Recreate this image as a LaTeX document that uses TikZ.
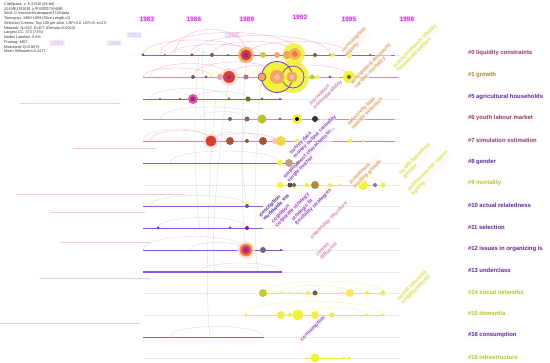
\documentclass[tikz,border=0pt]{standalone}
\usepackage{fontspec}
\setmainfont{Liberation Sans}
\newfontfamily\cjkf{Noto Sans CJK SC}
\definecolor{yearc}{HTML}{CC33DD}
\definecolor{yearbg}{HTML}{FCE2FA}
\definecolor{cpurp}{HTML}{5B2C9A}
\definecolor{cmauve}{HTML}{8A3F72}
\definecolor{colive}{HTML}{9C8A30}
\definecolor{cyell}{HTML}{B4C828}
\definecolor{tlpurp}{HTML}{8A55E0}
\definecolor{tlyel}{HTML}{E6EE2A}
\definecolor{nyel}{HTML}{F2F23A}
\definecolor{norange}{HTML}{F0A860}
\definecolor{nred}{HTML}{D84030}
\definecolor{npurp}{HTML}{8030A0}
\definecolor{olv}{HTML}{6E6A28}
\definecolor{tan}{HTML}{D4A060}
\definecolor{lpink}{HTML}{C888B8}
\definecolor{lblpur}{HTML}{8545C8}
\definecolor{lbldk}{HTML}{4A32A8}
\definecolor{lblyl}{HTML}{D2E43C}
\begin{document}
\begin{tikzpicture}[x=1pt,y=-1pt,
  nd/.style={circle,inner sep=0pt,minimum size=#1},
  hdr/.style={font=\fontsize{3.8}{4.75}\selectfont, align=left, inner sep=0pt, anchor=north west, text=black!80},
  yearlbl/.style={font=\fontsize{6.3}{7}\selectfont\bfseries, text=yearc, fill=yearbg, inner sep=1.2pt},
  ghostyr/.style={font=\fontsize{6}{7}\selectfont\bfseries, text=yearc!35, fill=cyan!8, inner sep=1pt},
  clbl/.style={font=\fontsize{5.9}{6.5}\selectfont\bfseries, anchor=west, fill=pink!8, inner sep=0.8pt},
  rlbl/.style={font=\fontsize{5.2}{5.6}\selectfont\bfseries, rotate=45, anchor=south west, align=left, inner sep=0.5pt, fill=pink!12, fill opacity=0.6, text opacity=1},
  tlp/.style={draw=tlpurp, line width=0.8pt},
  tly/.style={draw=tlyel, line width=0.8pt},
  guide/.style={draw=black!8, line width=0.3pt},
  arcpk/.style={draw=magenta!50, line width=0.35pt, opacity=0.6},
  arcgy/.style={draw=black!35, line width=0.3pt, opacity=0.45},
  arcyl/.style={draw=tlyel, line width=0.3pt, opacity=0.5},
  ghost/.style={draw=magenta!22, line width=0.6pt}
]
\useasboundingbox[fill=white] (0,0) rectangle (550,363);

% ---------- header ----------
\node[hdr] (hdr) at (4,2.5) {CiteSpace, v. 5.3.R10 (64-bit)\\
{\cjkf 2019年2月28日 上午03时17分40秒}\\
WoS: C:\textbackslash research\textbackslash citespace\textbackslash 3724\textbackslash data\\
Timespan: 1980-1999 (Slice Length=2)\\
Selection Criteria: Top 100 per slice, LRF=3.0, LBY=8, e=2.0\\
Network: N=522, E=677 (Density=0.0042)\\
Largest CC: 373 (71\%)\\
Nodes Labeled: 5.0\%\\
Pruning: MST\\
Modularity Q=0.8575\\
Mean Silhouette=0.4477};

% ---------- ghost artefacts on the left ----------
\node[ghostyr] (gy1) at (134,35) {1983};
\node[ghostyr] (gy2) at (232,35) {1989};
\node[ghostyr] (gy3) at (57,43) {1995};
\node[ghostyr] (gy4) at (114,43) {1996};
\foreach \a/\b/\y [count=\i] in {73/157/148, 16/185/194, 60/150/242, 40/150/278, 0/140/323, 20/120/103, 50/145/212}{
  \coordinate (gha\i) at (\a,\y); \coordinate (ghb\i) at (\b,\y);
  \draw[ghost] (gha\i) -- (ghb\i);
}

% ---------- year labels ----------
\node[yearlbl] (y1983) at (147,19) {1983};
\node[yearlbl] (y1986) at (194,19) {1986};
\node[yearlbl] (y1989) at (247,19) {1989};
\node[yearlbl] (y1992) at (300,17) {1992};
\node[yearlbl] (y1995) at (349,19) {1995};
\node[yearlbl] (y1998) at (407,19) {1998};

% ---------- guide lines ----------
\foreach \r/\y in {0/55,1/77,5/99,6/119,7/141,8/163,9/185,10/206,11/228,12/250,13/272,14/293,15/315,16/337,18/358}{
  \coordinate (gs\r) at (143,\y); \coordinate (ge\r) at (400,\y);
  \draw[guide] (gs\r) -- (ge\r);
}

% ---------- arcs (links) ----------
\foreach \a/\b/\y/\h [count=\i] in {143/247/55/20, 160/300/55/30, 212/295/55/18, 190/330/55/26, 247/349/55/18, 170/262/55/14, 150/229/77/18, 193/278/77/20, 229/300/77/16, 262/349/77/16, 143/212/77/12, 150/211/141/14, 175/247/55/34, 211/276/141/10}{
  \coordinate (pa\i) at (\a,\y); \coordinate (pb\i) at (\b,\y);
  \draw[arcpk] (pa\i) .. controls +(0,-\h) and +(0,-\h) .. (pb\i);
}
\foreach \a/\b/\y/\h [count=\i] in {150/229/99/14, 193/248/99/10, 160/262/119/16, 200/246/119/10, 143/211/141/16, 211/263/141/12, 170/280/163/16, 150/247/206/14, 158/247/228/14, 143/246/250/18, 200/281/272/12, 170/263/337/14, 190/246/250/10}{
  \coordinate (qa\i) at (\a,\y); \coordinate (qb\i) at (\b,\y);
  \draw[arcgy] (qa\i) .. controls +(0,-\h) and +(0,-\h) .. (qb\i);
}
\foreach \a/\b/\y/\h [count=\i] in {263/385/293/16, 280/350/293/10, 245/383/315/18, 298/367/315/10, 315/383/185/12}{
  \coordinate (ya\i) at (\a,\y); \coordinate (yb\i) at (\b,\y);
  \draw[arcyl] (ya\i) .. controls +(0,-\h) and +(0,-\h) .. (yb\i);
}
% cross-cluster links
\foreach \a/\ya/\b/\yb [count=\i] in {247/55/246/250, 211/141/205/55, 229/77/215/272, 199/55/200/228, 246/119/247/206, 216/99/210/337, 262/77/258/272}{
  \coordinate (va\i) at (\a,\ya); \coordinate (vb\i) at (\b,\yb);
  \draw[arcgy] (va\i) .. controls +(-6,40) and +(-6,-40) .. (vb\i);
}

% ---------- timelines ----------
\coordinate (t0a) at (143,55);  \coordinate (t0b) at (395,55);
\coordinate (t1a) at (143,77);  \coordinate (t1b) at (398,77);
\coordinate (t5a) at (143,99);  \coordinate (t5b) at (282,99);
\coordinate (t6a) at (143,119); \coordinate (t6b) at (395,119);
\coordinate (t7a) at (143,141); \coordinate (t7b) at (395,141);
\coordinate (t8a) at (143,163); \coordinate (t8b) at (300,163);
\coordinate (t9a) at (278,185); \coordinate (t9b) at (385,185);
\coordinate (t10a) at (143,206); \coordinate (t10b) at (263,206);
\coordinate (t11a) at (143,228); \coordinate (t11b) at (263,228);
\coordinate (t12a) at (143,250); \coordinate (t12b) at (283,250);
\coordinate (t13a) at (143,272); \coordinate (t13b) at (282,272);
\coordinate (t14a) at (262,293); \coordinate (t14b) at (385,293);
\coordinate (t15a) at (245,315); \coordinate (t15b) at (385,315);
\coordinate (t16a) at (143,337); \coordinate (t16b) at (264,337);
\coordinate (t18a) at (305,358); \coordinate (t18b) at (350,358);
\draw[draw=black!45!tlpurp!70, line width=0.7pt] (t0a) -- (t0b);
\draw[draw=colive!60!tlyel, line width=0.8pt] (t1a) -- (t1b);
\draw[tlp] (t5a) -- (t5b);
\draw[draw=tlpurp!50!pink, line width=0.6pt] (t6a) -- (t6b);
\draw[draw=tlpurp!55!pink, line width=0.8pt] (t7a) -- (t7b);
\draw[tlp] (t8a) -- (t8b);
\draw[tly] (t9a) -- (t9b);
\draw[tlp] (t10a) -- (t10b);
\draw[tlp] (t11a) -- (t11b);
\draw[tlp] (t12a) -- (t12b);
\draw[tlp, line width=1.3pt] (t13a) -- (t13b);
\draw[tly] (t14a) -- (t14b);
\draw[tly] (t15a) -- (t15b);
\draw[tlp] (t16a) -- (t16b);
\draw[tly] (t18a) -- (t18b);

% ---------- big nodes ----------
\node[nd=16pt, fill=norange, opacity=0.85] (b0a) at (246,55) {};
\node[nd=11pt, fill=nred] (b0a2) at (b0a) {};
\node[nd=5pt, fill=npurp] (b0a3) at (b0a) {};
\node[nd=22pt, fill=nyel, opacity=0.85] (b0b) at (294,54) {};
\node[nd=8pt, fill=norange] (b0b1) at (287,55) {};
\node[nd=12pt, fill=norange!80!nyel] (b0b2) at (295,54) {};
\node[nd=6pt, fill=norange!70!red] (b0b3) at (b0b2) {};

\node[nd=18pt, fill=pink!60, opacity=0.8] (b1a) at (229,77) {};
\node[nd=12pt, fill=nred] (b1a2) at (b1a) {};
\node[nd=4pt, fill=npurp] (b1a3) at (b1a) {};
\node[nd=32pt, fill=nyel, opacity=0.9] (b1c) at (293,77) {};
\node[nd=31pt, fill=nyel, draw=lblpur, line width=0.9pt] (b1b) at (277,77) {};
\node[nd=22pt, draw=lblpur, line width=0.8pt] (b1c2) at (293,77) {};
\node[nd=14pt, fill=norange] (b1b2) at (277,77) {};
\node[nd=6pt, fill=pink!70!norange] (b1b3) at (277,77) {};
\node[nd=11pt, fill=norange] (b1c3) at (292,77) {};
\node[nd=5pt, fill=pink!70!norange] (b1c4) at (292,77) {};
\node[nd=12pt, fill=nyel] (b1d) at (349,77) {};
\node[nd=4pt, fill=olv] (b1d2) at (b1d) {};
\node[nd=8pt, fill=norange, draw=npurp, line width=0.6pt] (b1e) at (262,77) {};

\node[nd=10pt, fill=magenta!70] (b5a) at (193,99) {};
\node[nd=5pt, fill=npurp] (b5a2) at (b5a) {};

\node[nd=15pt, fill=pink!55, opacity=0.8] (b7a) at (211,141) {};
\node[nd=11pt, fill=nred] (b7a2) at (b7a) {};

\node[nd=18pt, fill=pink!50, opacity=0.8] (b12a) at (246,250) {};
\node[nd=13pt, fill=norange!80!red] (b12a2) at (b12a) {};
\node[nd=9pt, fill=nred!80!magenta] (b12a3) at (b12a) {};
\node[nd=4pt, fill=npurp] (b12a4) at (b12a) {};

% ---------- small nodes ----------
\foreach \x/\s/\c [count=\i] in {143/3pt/npurp, 165/2pt/olv, 192/3pt/npurp, 212/4pt/olv, 228/2.4pt/olv, 263/6pt/nyel!70!olv, 277/6pt/norange, 315/4pt/olv, 330/3pt/nyel!60!olv, 333/4pt/nyel, 349/6pt/nyel, 370/2pt/olv}
  {\node[nd=\s, fill=\c] (s0n\i) at (\x,55) {};}
\foreach \x/\s/\c [count=\i] in {193/4pt/olv, 206/3pt/olv, 220/6pt/pink!80!olv, 246/5pt/olv!60!norange, 312/5pt/nyel!70!olv, 318/4pt/nyel, 330/3pt/olv}
  {\node[nd=\s, fill=\c] (s1n\i) at (\x,77) {};}
\foreach \x/\s/\c [count=\i] in {160/2pt/npurp, 180/2pt/npurp, 229/3pt/olv, 248/5pt/olv, 262/3pt/olv, 280/2pt/npurp}
  {\node[nd=\s, fill=\c] (s5n\i) at (\x,99) {};}
\foreach \x/\s/\c [count=\i] in {230/4pt/olv, 247/5pt/tlpurp!40!olv, 262/9pt/nyel!60!olv, 280/3pt/olv, 297/10pt/nyel, 315/6pt/black!80}
  {\node[nd=\s, fill=\c] (s6n\i) at (\x,119) {};}
\node[nd=4pt, fill=black] (s6c) at (297,119) {};
\foreach \x/\s/\c [count=\i] in {230/8pt/nred!60!olv, 247/4pt/olv, 263/8pt/nred!50!olv, 275/6pt/pink, 281/10pt/nyel!60!norange, 297/4pt/nyel, 350/4pt/nyel, 363/3pt/nyel}
  {\node[nd=\s, fill=\c] (s7n\i) at (\x,141) {};}
\foreach \x/\s/\c [count=\i] in {280/6pt/nyel, 289/8pt/pink!60!olv, 298/4pt/olv}
  {\node[nd=\s, fill=\c] (s8n\i) at (\x,163) {};}
\foreach \x/\s/\c [count=\i] in {280/6pt/nyel, 290/5pt/black!70, 294/4pt/olv, 307/4pt/nyel, 315/8pt/norange!50!olv, 330/4pt/nyel, 340/3pt/nyel, 363/10pt/nyel, 375/4pt/black!50, 383/5pt/nyel}
  {\node[nd=\s, fill=\c] (s9n\i) at (\x,185) {};}
\node[nd=4pt, fill=olv] (s10n1) at (247,206) {};
\node[nd=3pt, fill=npurp] (s11n1) at (158,228) {};
\node[nd=3pt, fill=olv] (s11n2) at (230,228) {};
\node[nd=4pt, fill=nred!70!black] (s11n3) at (247,228) {};
\node[nd=6pt, fill=olv!60!tlpurp] (s12n1) at (263,250) {};
\node[nd=2pt, fill=npurp] (s12n2) at (281,250) {};
\foreach \x/\s/\c [count=\i] in {263/8pt/nyel!70!olv, 282/3pt/nyel, 290/3pt/nyel, 298/3pt/nyel, 308/4pt/nyel, 315/5pt/olv, 342/3pt/nyel, 350/8pt/nyel, 367/4pt/nyel, 383/5pt/nyel}
  {\node[nd=\s, fill=\c] (s14n\i) at (\x,293) {};}
\foreach \x/\s/\c [count=\i] in {246/3pt/nyel, 281/8pt/nyel, 290/4pt/nyel, 298/11pt/nyel, 315/8pt/nyel, 332/5pt/nyel, 367/3pt/nyel, 383/3pt/nyel}
  {\node[nd=\s, fill=\c] (s15n\i) at (\x,315) {};}
\node[nd=9pt, fill=nyel] (s18n1) at (315,358) {};
\node[nd=3pt, fill=nyel] (s18n2) at (344,358) {};
\node[nd=3pt, fill=nyel] (s18n3) at (349,358) {};

% ---------- rotated labels ----------
\node[rlbl, text=tan] (l1) at (348,58) {consumption\\elderly};
\node[rlbl, text=tan] (l2) at (357,90) {anticipating decisions\\cardiac mortality};
\node[rlbl, text=lpink] (l3) at (316,111) {innovation\\nonseparability};
\node[rlbl, text=tan] (l4) at (354,131) {selectivity bias\\sample selection};
\node[rlbl, text=lblpur] (l5) at (296,160) {survey data\\money output causality};
\node[rlbl, text=lblpur] (l6) at (290,184) {employment characteristic...\\single mother};
\node[rlbl, text=tan] (l7) at (356,190) {investment\\lending growth};
\node[rlbl, text=lblyl] (l8) at (406,180) {health behaviour\\gender};
\node[rlbl, text=lblyl] (l9) at (414,197) {socioeconomic status\\ageing};
\node[rlbl, text=lbldk] (l10) at (265,222) {description\\worldwide era};
\node[rlbl, text=lblpur!80!magenta] (l11) at (278,229) {cognition\\corporate strategy};
\node[rlbl, text=lblpur] (l12) at (298,227) {strategic fit\\flexibility strategies};
\node[rlbl, text=lpink] (l13) at (313,241) {ownership structure};
\node[rlbl, text=lpink] (l14) at (322,261) {issues\\diffusion};
\node[rlbl, text=lblpur] (l15) at (303,343) {consumption};
\node[rlbl, text=lblyl] (l16) at (404,306) {social networks\\neighbourhood};
\node[rlbl, text=lblyl] (l17) at (399,73) {macroeconomic shocks\\household welfare};

% ---------- cluster labels ----------
\node[clbl, text=cmauve] (c0) at (467,53) {\#0 liquidity constraints};
\node[clbl, text=colive] (c1) at (467,75) {\#1 growth};
\node[clbl, text=cpurp] (c5) at (467,97) {\#5 agricultural households};
\node[clbl, text=cmauve] (c6) at (467,118) {\#6 youth labour market};
\node[clbl, text=cmauve] (c7) at (467,140) {\#7 simulation estimation};
\node[clbl, text=cpurp] (c8) at (467,162) {\#8 gender};
\node[clbl, text=cyell] (c9) at (467,183) {\#9 mortality};
\node[clbl, text=cpurp] (c10) at (467,205) {\#10 actual relatedness};
\node[clbl, text=cpurp] (c11) at (467,227) {\#11 selection};
\node[clbl, text=cpurp] (c12) at (467,249) {\#12 issues in organizing is};
\node[clbl, text=cpurp] (c13) at (467,270) {\#13 underclass};
\node[clbl, text=cyell] (c14) at (467,292) {\#14 social networks};
\node[clbl, text=cyell] (c15) at (467,313) {\#15 dementia};
\node[clbl, text=cpurp] (c16) at (467,335) {\#16 consumption};
\node[clbl, text=cyell] (c18) at (467,357) {\#18 infrastructure};
\end{tikzpicture}
\end{document}
